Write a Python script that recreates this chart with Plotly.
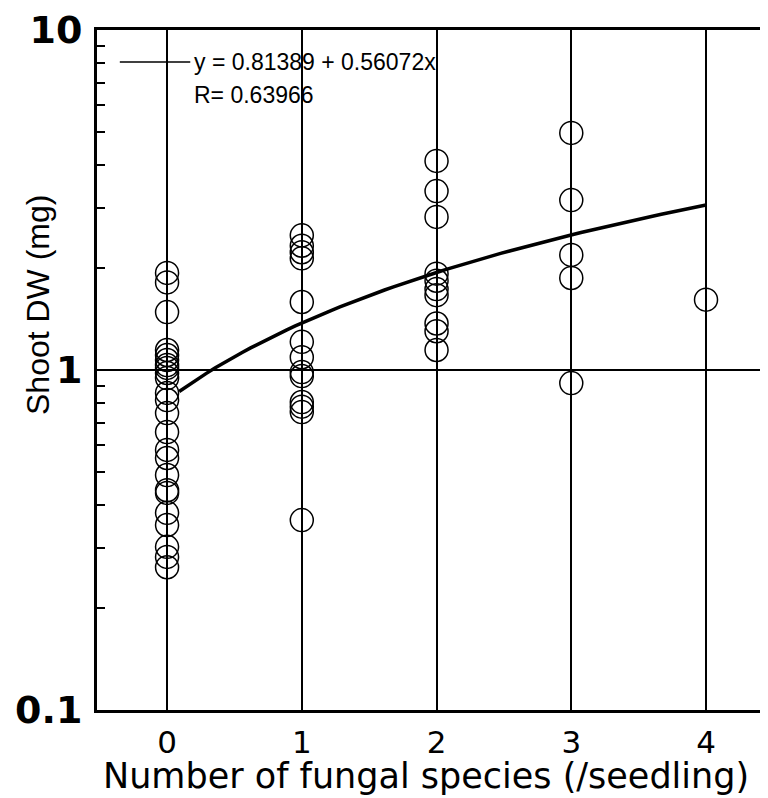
import plotly.graph_objects as go

# Data
x0_vals = [1.93, 1.81, 1.48, 1.145, 1.107, 1.07, 1.034, 1.014, 0.98, 0.947, 0.856, 0.816,
           0.747, 0.657, 0.582, 0.551, 0.491, 0.443, 0.435, 0.380, 0.350, 0.302, 0.282, 0.263]
x1_vals = [2.49, 2.32, 2.22, 2.13, 1.585, 1.21, 1.09, 0.986, 0.96, 0.805, 0.78, 0.752, 0.362]
x2_vals = [4.12, 3.36, 2.82, 1.92, 1.83, 1.73, 1.66, 1.37, 1.30, 1.145]
x3_vals = [4.98, 3.16, 2.18, 1.865, 0.915]
x4_vals = [1.61]

groups = [0, 1, 2, 3, 4]
group_values = [x0_vals, x1_vals, x2_vals, x3_vals, x4_vals]
y_tick_vals = [0.1, 1, 10]
y_tick_text = ["0.1", "1", "10"]

intercept = 0.81389
slope = 0.56072
r_value = 0.63966
fit_x_start = 0.09
fit_x_end = 4.0

xs, ys = [], []
for g, vals in zip(groups, group_values):
    xs += [g] * len(vals)
    ys += vals

n_fit = 60
fit_x = [fit_x_start + (fit_x_end - fit_x_start) * i / (n_fit - 1) for i in range(n_fit)]
fit_y = [intercept + slope * v for v in fit_x]

ARIAL = "Liberation Sans, Arial, Helvetica, sans-serif"
WIDE = "DejaVu Sans, Verdana, sans-serif"

fig = go.Figure()
fig.add_trace(go.Scatter(
    x=xs, y=ys, mode="markers",
    marker=dict(symbol="circle-open", size=23, color="black", line=dict(width=1.5)),
    showlegend=False, cliponaxis=False,
))
fig.add_trace(go.Scatter(
    x=fit_x, y=fit_y, mode="lines",
    line=dict(color="black", width=3.5),
    showlegend=False,
))

fig.update_layout(
    width=760, height=790,
    margin=dict(l=89, r=0, t=22, b=88, autoexpand=False),
    paper_bgcolor="white", plot_bgcolor="white",
    font=dict(family=WIDE, color="black"),
    xaxis=dict(
        range=[-0.52, 4.46], automargin=False,
        tickvals=groups, ticktext=[str(g) for g in groups],
        showgrid=True, gridcolor="black", gridwidth=1.6,
        zeroline=False,
        showline=True, linecolor="black", linewidth=2.5,
        mirror="ticks", ticks="inside", ticklen=8, tickwidth=2, tickcolor="black",
        tickfont=dict(size=31, family=WIDE), ticklabelstandoff=3,
        ticklabeloverflow="allow",
    ),
    yaxis=dict(
        type="log", range=[-1, 1], automargin=False,
        tickvals=y_tick_vals, ticktext=y_tick_text,
        showgrid=True, gridcolor="black", gridwidth=1.6,
        zeroline=False,
        showline=True, linecolor="black", linewidth=3,
        ticks="inside", ticklen=10, tickwidth=2, tickcolor="black",
        tickfont=dict(size=38, family=WIDE, weight="bold"), ticklabelstandoff=4,
        ticklabeloverflow="allow",
        minor=dict(ticks="inside", ticklen=8, tickwidth=2, tickcolor="black",
                   dtick="D1", showgrid=False),
    ),
)

# Axis titles
fig.add_annotation(xref="paper", yref="paper", x=0.49, y=-0.1294, xanchor="center", yanchor="bottom",
                   text="Number of fungal species (/seedling)", showarrow=False,
                   font=dict(size=35, family=WIDE, color="black"))
fig.add_annotation(xref="paper", yref="paper", x=-0.089, y=0.596, xanchor="center", yanchor="middle",
                   text="Shoot DW (mg)", textangle=-90, showarrow=False,
                   font=dict(size=32, family=ARIAL, color="black"))

# Legend-like box
fig.add_shape(type="rect", xref="paper", yref="paper", x0=0.005, x1=0.49, y0=0.878, y1=0.996,
              fillcolor="white", line=dict(width=0), layer="between")
fig.add_shape(type="line", xref="paper", yref="paper", x0=0.034, x1=0.139, y0=0.953, y1=0.953,
              line=dict(color="black", width=1.5))
fig.add_annotation(xref="paper", yref="paper", x=0.141, y=0.953, xanchor="left", yanchor="middle",
                   text=f"y = {intercept} + {slope}x", showarrow=False,
                   font=dict(size=23, family=ARIAL, color="black"))
fig.add_annotation(xref="paper", yref="paper", x=0.141, y=0.904, xanchor="left", yanchor="middle",
                   text=f"R= {r_value}", showarrow=False,
                   font=dict(size=23, family=ARIAL, color="black"))

fig.write_html("out.html")
